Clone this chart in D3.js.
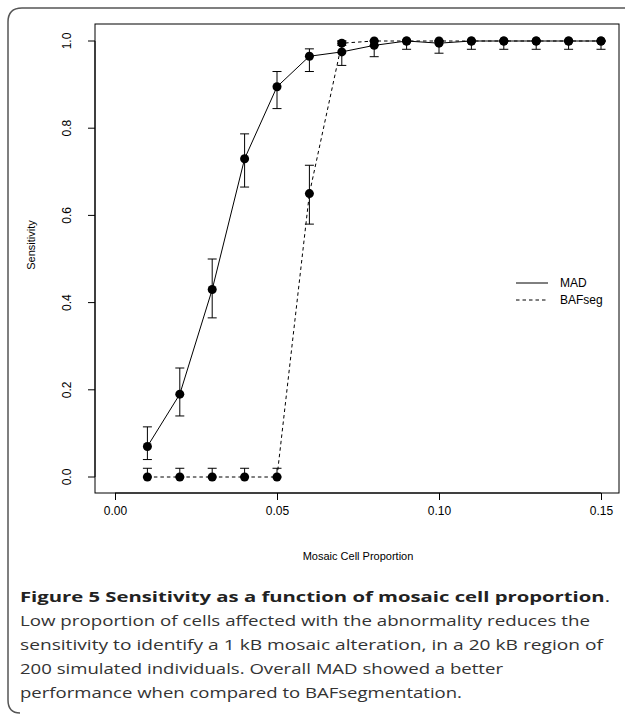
<!DOCTYPE html>
<html><head><meta charset="utf-8">
<script src="https://cdn.jsdelivr.net/npm/d3@7"></script>
<style>html,body{margin:0;padding:0;background:#fff;}svg{display:block;}</style>
</head><body>
<script>
const proportions = [0.01,0.02,0.03,0.04,0.05,0.06,0.07,0.08,0.09,0.10,0.11,0.12,0.13,0.14,0.15];
const madValues  = [0.07,0.19,0.43,0.73,0.895,0.965,0.975,0.99,1.0,0.995,1.0,1.0,1.0,1.0,1.0];
const madLower   = [0.04,0.14,0.365,0.665,0.845,0.93,0.944,0.964,0.981,0.972,0.981,0.981,0.981,0.981,0.981];
const madUpper   = [0.115,0.25,0.50,0.787,0.93,0.982,1.0,1.0,1.0,1.0,1.0,1.0,1.0,1.0,1.0];
const bafValues  = [0,0,0,0,0,0.65,0.995,1.0,1.0,1.0,1.0,1.0,1.0,1.0,1.0];
const bafLower   = [0,0,0,0,0,0.58,0.99,0.99,1.0,1.0,1.0,1.0,1.0,1.0,1.0];
const bafUpper   = [0.02,0.02,0.02,0.02,0.02,0.715,1.0,1.0,1.0,1.0,1.0,1.0,1.0,1.0,1.0];
const xTicks = [0.00,0.05,0.10,0.15];
const yTicks = [0.0,0.2,0.4,0.6,0.8,1.0];
const seriesNames = ["MAD","BAFseg"];
const captionTitle = "Figure 5 Sensitivity as a function of mosaic cell proportion";
const captionLines = [
  "Low proportion of cells affected with the abnormality reduces the",
  "sensitivity to identify a 1 kB mosaic alteration, in a 20 kB region of",
  "200 simulated individuals. Overall MAD showed a better",
  "performance when compared to BAFsegmentation."
];

const W = 625, H = 717;
const svg = d3.select("body").append("svg").attr("width", W).attr("height", H);

// outer rounded frame
svg.append("path")
  .attr("d", "M 640 8 L 22 8 Q 8 8 8 22 L 8 700 Q 8 713 20 713")
  .attr("fill","none").attr("stroke","#555").attr("stroke-width",1.5);

const x = d3.scaleLinear().domain([0,0.15]).range([115,601]);
const y = d3.scaleLinear().domain([0,1]).range([477,41]);
const box = {l:95, r:619, t:24, b:493};

svg.append("rect").attr("x",box.l).attr("y",box.t).attr("width",box.r-box.l).attr("height",box.b-box.t)
  .attr("fill","none").attr("stroke","#000").attr("stroke-width",1);

const font = "'Liberation Sans', Arial, Helvetica, sans-serif";

// x axis
const xAxis = d3.axisBottom(x).tickValues(xTicks).tickFormat(d3.format(".2f")).tickSize(7).tickPadding(6);
const gx = svg.append("g").attr("transform",`translate(0,${box.b})`).call(xAxis);
gx.select(".domain").attr("d", `M${x(0)},0H${x(0.15)}`);
gx.selectAll("text").attr("font-family",font).attr("font-size",12).attr("fill","#000");
gx.selectAll("line").attr("stroke","#000");

// y axis
const yAxis = d3.axisLeft(y).tickValues(yTicks).tickFormat(d3.format(".1f")).tickSize(7).tickPadding(0);
const gy = svg.append("g").attr("transform",`translate(${box.l},0)`).call(yAxis);
gy.select(".domain").attr("d", `M0,${y(0)}V${y(1)}`);
gy.selectAll("line").attr("stroke","#000");
gy.selectAll(".tick").attr("transform", null);
gy.selectAll(".tick line").attr("y1", d=>y(d)).attr("y2", d=>y(d));
gy.selectAll(".tick text").attr("font-family",font).attr("font-size",12).attr("fill","#000")
  .attr("text-anchor","middle").attr("y",0).attr("x",0).attr("dy","0")
  .attr("transform", d => `translate(${-24},${y(d)}) rotate(-90)`);

// axis titles
svg.append("text").attr("x",(x(0)+x(0.15))/2).attr("y",560).attr("text-anchor","middle")
  .attr("font-family",font).attr("font-size",11).text("Mosaic Cell Proportion");
svg.append("text").attr("transform","translate(35,245) rotate(-90)").attr("text-anchor","middle")
  .attr("font-family",font).attr("font-size",11).text("Sensitivity");

const line = d3.line().x(d=>x(d[0])).y(d=>y(d[1]));
const madData = proportions.map((p,i)=>[p,madValues[i],madLower[i],madUpper[i]]);
const bafData = proportions.map((p,i)=>[p,bafValues[i],bafLower[i],bafUpper[i]]);

function drawSeries(data, dash){
  svg.append("path").datum(data).attr("d",line).attr("fill","none").attr("stroke","#000")
    .attr("stroke-width",1).attr("stroke-dasharray",dash);
  const g = svg.append("g");
  data.forEach(d=>{
    g.append("line").attr("x1",x(d[0])).attr("x2",x(d[0])).attr("y1",y(d[2])).attr("y2",y(d[3])).attr("stroke","#000");
    g.append("line").attr("x1",x(d[0])-4.5).attr("x2",x(d[0])+4.5).attr("y1",y(d[2])).attr("y2",y(d[2])).attr("stroke","#000");
    g.append("line").attr("x1",x(d[0])-4.5).attr("x2",x(d[0])+4.5).attr("y1",y(d[3])).attr("y2",y(d[3])).attr("stroke","#000");
  });
  g.selectAll("circle").data(data).enter().append("circle")
    .attr("cx",d=>x(d[0])).attr("cy",d=>y(d[1])).attr("r",4.5).attr("fill","#000");
}
drawSeries(bafData, "3.5,3");
drawSeries(madData, null);

// legend
const leg = svg.append("g");
seriesNames.forEach((n,i)=>{
  const ly = 283 + i*17;
  leg.append("line").attr("x1",516).attr("x2",548).attr("y1",ly).attr("y2",ly).attr("stroke","#000")
    .attr("stroke-dasharray", i===1 ? "3.5,3" : null);
  leg.append("text").attr("x",560).attr("y",ly+4).attr("font-family",font).attr("font-size",12).text(n);
});

// caption
const capFont = "'Open Sans', 'Noto Sans', sans-serif";
const t0 = svg.append("text").attr("x",20).attr("y",602).attr("font-family",capFont).attr("font-size",15)
  .attr("font-weight","bold").attr("fill","#222").attr("textLength",590).attr("lengthAdjust","spacingAndGlyphs");
t0.append("tspan").text(captionTitle);
t0.append("tspan").attr("font-weight","normal").text(".");
const widths = [570,583,483,442];
captionLines.forEach((l,i)=>{
  svg.append("text").attr("x",20).attr("y",626+i*24).attr("font-family",capFont).attr("font-size",15)
    .attr("fill","#333").attr("textLength",widths[i]).attr("lengthAdjust","spacingAndGlyphs").text(l);
});
</script>
</body></html>
